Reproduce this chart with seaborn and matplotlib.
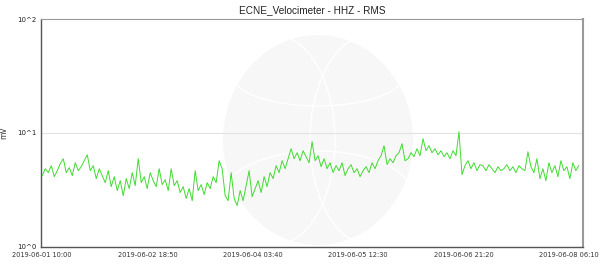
import numpy as np
import pandas as pd
import matplotlib
matplotlib.use("Agg")
import matplotlib.pyplot as plt
import matplotlib.dates as mdates
from matplotlib.patches import Ellipse, Arc
import seaborn as sns

# ---- data (RMS, mV) ----
rms_mv = [
    4.2, 4.83, 4.46, 5.14, 4.11, 4.64, 5.35,
    5.91, 4.46, 4.93, 4.2, 5.45, 4.64, 5.03,
    5.68, 6.41, 4.64, 5.14, 3.95, 4.83, 4.2,
    3.64, 4.64, 3.36, 4.11, 3.1, 3.79, 2.8,
    3.95, 3.23, 4.46, 3.43, 5.91, 3.64, 4.11,
    3.23, 4.46, 3.79, 3.36, 4.83, 3.5, 3.87,
    3.1, 4.83, 3.43, 3.79, 2.98, 3.36, 2.64,
    3.23, 2.53, 4.64, 3.1, 3.5, 2.86, 3.64,
    3.23, 4.11, 3.64, 5.68, 4.83, 2.8, 2.53,
    4.46, 2.64, 2.29, 3.1, 2.53, 3.43, 4.64,
    2.74, 3.23, 3.79, 2.98, 4.11, 3.36, 4.46,
    3.95, 5.14, 4.46, 5.68, 4.83, 5.91, 7.24,
    5.91, 6.68, 5.68, 6.95, 6.16, 5.45, 8.34,
    5.68, 6.28, 5.03, 5.91, 4.83, 5.45, 4.46,
    5.14, 4.64, 5.45, 4.2, 4.83, 5.24, 4.46,
    4.83, 4.11, 4.64, 5.03, 4.46, 5.45, 4.83,
    5.68, 6.28, 7.69, 5.24, 5.91, 5.45, 6.28,
    6.68, 8.01, 5.68, 5.91, 6.68, 6.16, 7.24,
    6.28, 8.86, 6.95, 7.69, 6.68, 7.24, 6.41,
    6.95, 6.16, 6.68, 5.91, 6.95, 6.28, 10.2,
    4.28, 5.14, 5.68, 4.83, 5.45, 4.64, 5.24,
    5.14, 4.64, 5.24, 4.83, 4.46, 5.03, 4.64,
    4.83, 5.24, 4.64, 5.03, 4.46, 5.14, 4.83,
    4.64, 6.81, 5.03, 4.46, 5.91, 3.95, 4.83,
    3.79, 5.45, 4.46, 5.14, 4.11, 5.68, 4.64,
    5.03, 3.95, 5.45, 4.64, 5.14,
]
t_start = "2019-06-01 10:00"
t_end = "2019-06-08 09:20"
tick_times = ["2019-06-01 10:00", "2019-06-02 18:50", "2019-06-04 03:40",
              "2019-06-05 12:30", "2019-06-06 21:20", "2019-06-08 06:10"]
y_ticks = [1, 10, 100]
y_tick_labels = ["10^0", "10^1", "10^2"]
title = "ECNE_Velocimeter - HHZ - RMS"

times = pd.date_range(t_start, t_end, periods=len(rms_mv))
df = pd.DataFrame({"time": times, "rms": rms_mv})

sns.set_style("white")
plt.rcParams["font.family"] = ["DejaVu Sans"]

fig = plt.figure(figsize=(6.0, 2.66), dpi=100)
ax = fig.add_axes([41/600, 1-246.5/266, (583-41)/600, (246.5-19)/266])

# faint globe watermark
wm_kw = dict(transform=fig.dpi_scale_trans, zorder=0)
ax.add_patch(Ellipse((3.18, 1.26), 1.9, 2.1, facecolor="#f7f7f7", edgecolor="none", **wm_kw))
ax.add_patch(Arc((3.18, 1.9), 1.7, 0.6, theta1=180, theta2=360, color="white", lw=1.0, **wm_kw))
ax.add_patch(Arc((3.18, 0.7), 1.9, 0.9, theta1=0, theta2=180, color="white", lw=1.0, **wm_kw))
ax.add_patch(Arc((2.75, 1.26), 1.2, 2.1, theta1=-90, theta2=90, color="white", lw=1.0, **wm_kw))
ax.add_patch(Arc((3.7, 1.26), 1.2, 2.1, theta1=90, theta2=270, color="white", lw=1.0, **wm_kw))

ax.axhline(10, color="#e2e2e2", lw=0.8, zorder=1)
sns.lineplot(data=df, x="time", y="rms", ax=ax, color="#3fdc2f", lw=0.7, zorder=3)

ax.set_yscale("log")
ax.set_ylim(1, 100)
ax.set_yticks(y_ticks)
ax.set_yticklabels(y_tick_labels)
ax.yaxis.set_minor_locator(matplotlib.ticker.NullLocator())
ax.set_xlim(pd.Timestamp("2019-06-01 09:36"), pd.Timestamp("2019-06-08 10:37"))
ax.set_xticks([pd.Timestamp(t) for t in tick_times])
ax.set_xticklabels(tick_times)
ax.tick_params(axis="x", labelsize=4.8, colors="#333333", length=0, pad=4)
ax.tick_params(axis="y", labelsize=5.0, colors="#222222", length=0, pad=3)
ax.set_xlabel("")
ax.set_ylabel("mV", fontsize=5.5, color="#333333")
ax.yaxis.set_label_coords(-0.06, 0.5)
ax.set_title(title, fontsize=7.2, family=["Liberation Sans", "DejaVu Sans"], color="#222222", pad=4)
ax.grid(False)

for side in ["left", "bottom"]:
    ax.spines[side].set_color("#555555")
    ax.spines[side].set_linewidth(1.0)
ax.spines["top"].set_color("#999999")
ax.spines["top"].set_linewidth(0.8)
ax.spines["right"].set_color("#999999")
ax.spines["right"].set_linewidth(1.5)

fig.savefig("out.png", dpi=100)
